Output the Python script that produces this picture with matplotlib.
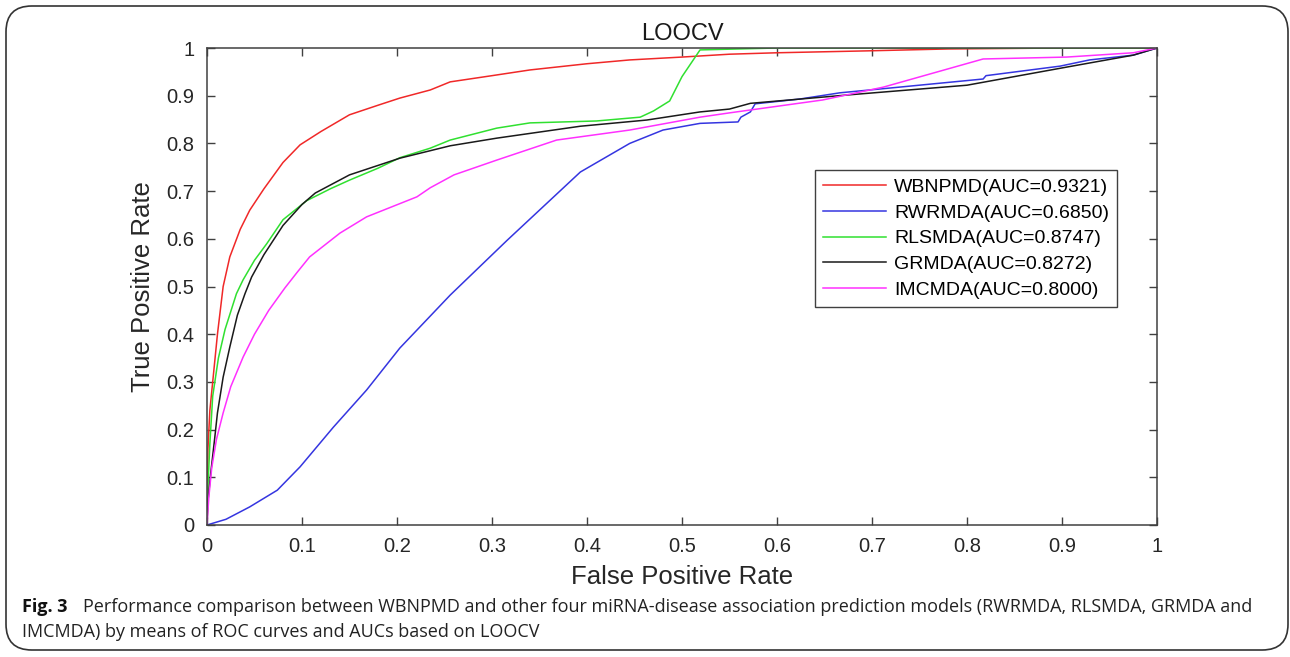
import matplotlib
matplotlib.use("Agg")
import matplotlib.pyplot as plt
from matplotlib.patches import FancyBboxPatch

# ROC points
wbnpmd_fpr = [0, 0.001, 0.003, 0.006, 0.011, 0.017, 0.024, 0.035, 0.045, 0.06, 0.08, 0.098, 0.12, 0.15,
              0.18, 0.203, 0.235, 0.256, 0.3, 0.34, 0.4, 0.445, 0.5, 0.55, 0.6, 0.695, 0.78, 0.9, 1.0]
wbnpmd_tpr = [0, 0.16, 0.24, 0.30, 0.40, 0.50, 0.562, 0.62, 0.66, 0.705, 0.76, 0.797, 0.825, 0.86,
              0.88, 0.895, 0.912, 0.929, 0.942, 0.954, 0.967, 0.975, 0.981, 0.987, 0.99, 0.994, 0.998, 1.0, 1.0]

rwrmda_fpr = [0, 0.02, 0.045, 0.074, 0.098, 0.133, 0.168, 0.203, 0.256, 0.316, 0.358, 0.393, 0.445, 0.48,
              0.519, 0.559, 0.562, 0.572, 0.577, 0.624, 0.666, 0.729, 0.817, 0.82, 0.898, 0.929, 0.975, 1.0]
rwrmda_tpr = [0, 0.012, 0.038, 0.073, 0.122, 0.205, 0.283, 0.371, 0.482, 0.597, 0.675, 0.74, 0.80, 0.828,
              0.842, 0.845, 0.855, 0.866, 0.883, 0.893, 0.906, 0.918, 0.935, 0.942, 0.962, 0.975, 0.985, 1.0]

rlsmda_fpr = [0, 0.001, 0.003, 0.006, 0.012, 0.019, 0.031, 0.038, 0.05, 0.063, 0.08, 0.105, 0.13, 0.15,
              0.18, 0.203, 0.235, 0.256, 0.305, 0.34, 0.41, 0.456, 0.47, 0.487, 0.50, 0.519, 0.6, 0.8, 1.0]
rlsmda_tpr = [0, 0.08, 0.17, 0.27, 0.35, 0.41, 0.485, 0.514, 0.555, 0.59, 0.64, 0.68, 0.705, 0.723,
              0.748, 0.77, 0.79, 0.807, 0.832, 0.843, 0.847, 0.855, 0.868, 0.889, 0.94, 0.996, 1.0, 1.0, 1.0]

grmda_fpr = [0, 0.001, 0.004, 0.008, 0.011, 0.017, 0.024, 0.032, 0.04, 0.047, 0.06, 0.08, 0.1, 0.114,
             0.15, 0.203, 0.256, 0.305, 0.393, 0.463, 0.519, 0.55, 0.572, 0.677, 0.8, 0.905, 0.975, 1.0]
grmda_tpr = [0, 0.05, 0.11, 0.18, 0.235, 0.31, 0.373, 0.44, 0.485, 0.52, 0.567, 0.628, 0.672, 0.696,
             0.734, 0.769, 0.795, 0.811, 0.836, 0.849, 0.866, 0.872, 0.884, 0.902, 0.922, 0.96, 0.985, 1.0]

imcmda_fpr = [0, 0.001, 0.002, 0.005, 0.01, 0.017, 0.025, 0.038, 0.05, 0.065, 0.082, 0.095, 0.108, 0.14,
              0.168, 0.221, 0.235, 0.26, 0.305, 0.368, 0.445, 0.519, 0.55, 0.648, 0.712, 0.817, 0.905, 0.975, 1.0]
imcmda_tpr = [0, 0.03, 0.06, 0.12, 0.18, 0.235, 0.29, 0.352, 0.40, 0.45, 0.497, 0.53, 0.562, 0.612,
              0.646, 0.688, 0.707, 0.734, 0.765, 0.807, 0.828, 0.855, 0.864, 0.891, 0.918, 0.977, 0.981, 0.99, 1.0]

labels = ["WBNPMD(AUC=0.9321)", "RWRMDA(AUC=0.6850)", "RLSMDA(AUC=0.8747)",
          "GRMDA(AUC=0.8272)", "IMCMDA(AUC=0.8000)"]
colors = ["#f02828", "#3535e0", "#30e030", "#1a1a1a", "#ff30ff"]
ticks = [0, 0.1, 0.2, 0.3, 0.4, 0.5, 0.6, 0.7, 0.8, 0.9, 1]
tick_labels = ["0", "0.1", "0.2", "0.3", "0.4", "0.5", "0.6", "0.7", "0.8", "0.9", "1"]

plt.rcParams["font.family"] = ["Liberation Sans", "DejaVu Sans"]

fig = plt.figure(figsize=(12.9, 6.57), dpi=100)
ax = fig.add_axes([207 / 1290, 1 - 525 / 657, 950 / 1290, 477 / 657])

curves = [(wbnpmd_fpr, wbnpmd_tpr), (rwrmda_fpr, rwrmda_tpr), (rlsmda_fpr, rlsmda_tpr),
          (grmda_fpr, grmda_tpr), (imcmda_fpr, imcmda_tpr)]
for (fx, ty), lab, col in zip(curves, labels, colors):
    ax.plot(fx, ty, color=col, linewidth=1.1, label=lab)

ax.set_xlim(0, 1)
ax.set_ylim(0, 1)
ax.set_xticks(ticks)
ax.set_xticklabels(tick_labels)
ax.set_yticks(ticks)
ax.set_yticklabels(tick_labels)
ax.tick_params(direction="in", length=6, width=1, colors="#404040", labelcolor="#262626",
               labelsize=14.5, top=True, right=True, pad=9)
for s in ax.spines.values():
    s.set_color("#404040")
    s.set_linewidth(1.1)

ax.set_title("LOOCV", fontsize=17, color="#1a1a1a", pad=6)
ax.set_xlabel("False Positive Rate", fontsize=18.5, color="#262626", labelpad=6)
ax.set_ylabel("True Positive Rate", fontsize=18.5, color="#262626", labelpad=8)

leg = ax.legend(loc="upper right", bbox_to_anchor=(0.958, 0.744), fontsize=14,
                handlelength=3.25, handletextpad=0.4, labelspacing=0.42,
                borderpad=0.42, borderaxespad=0, fancybox=False, framealpha=1)
leg.get_frame().set_edgecolor("#404040")
leg.get_frame().set_linewidth(1.0)

# rounded border round the whole figure
border = FancyBboxPatch((6 / 1290, 7 / 657), 1282 / 1290, 644 / 657,
                        boxstyle="round,pad=0,rounding_size=0.02",
                        transform=fig.transFigure, fill=False,
                        edgecolor="#333333", linewidth=1.2, mutation_aspect=1290 / 657)
fig.patches.append(border)

# caption
cap_font = ["Open Sans", "DejaVu Sans"]
fig.text(22 / 1290, 1 - 607 / 657, "Fig. 3", fontsize=13, fontweight="bold",
         family=cap_font, va="center", ha="left", color="#111111")
fig.text(83 / 1290, 1 - 607 / 657,
         "Performance comparison between WBNPMD and other four miRNA-disease association prediction models (RWRMDA, RLSMDA, GRMDA and",
         fontsize=13, family=cap_font, va="center", ha="left", color="#222222")
fig.text(22 / 1290, 1 - 632 / 657,
         "IMCMDA) by means of ROC curves and AUCs based on LOOCV",
         fontsize=13, family=cap_font, va="center", ha="left", color="#222222")

fig.savefig("out.png", dpi=100)
